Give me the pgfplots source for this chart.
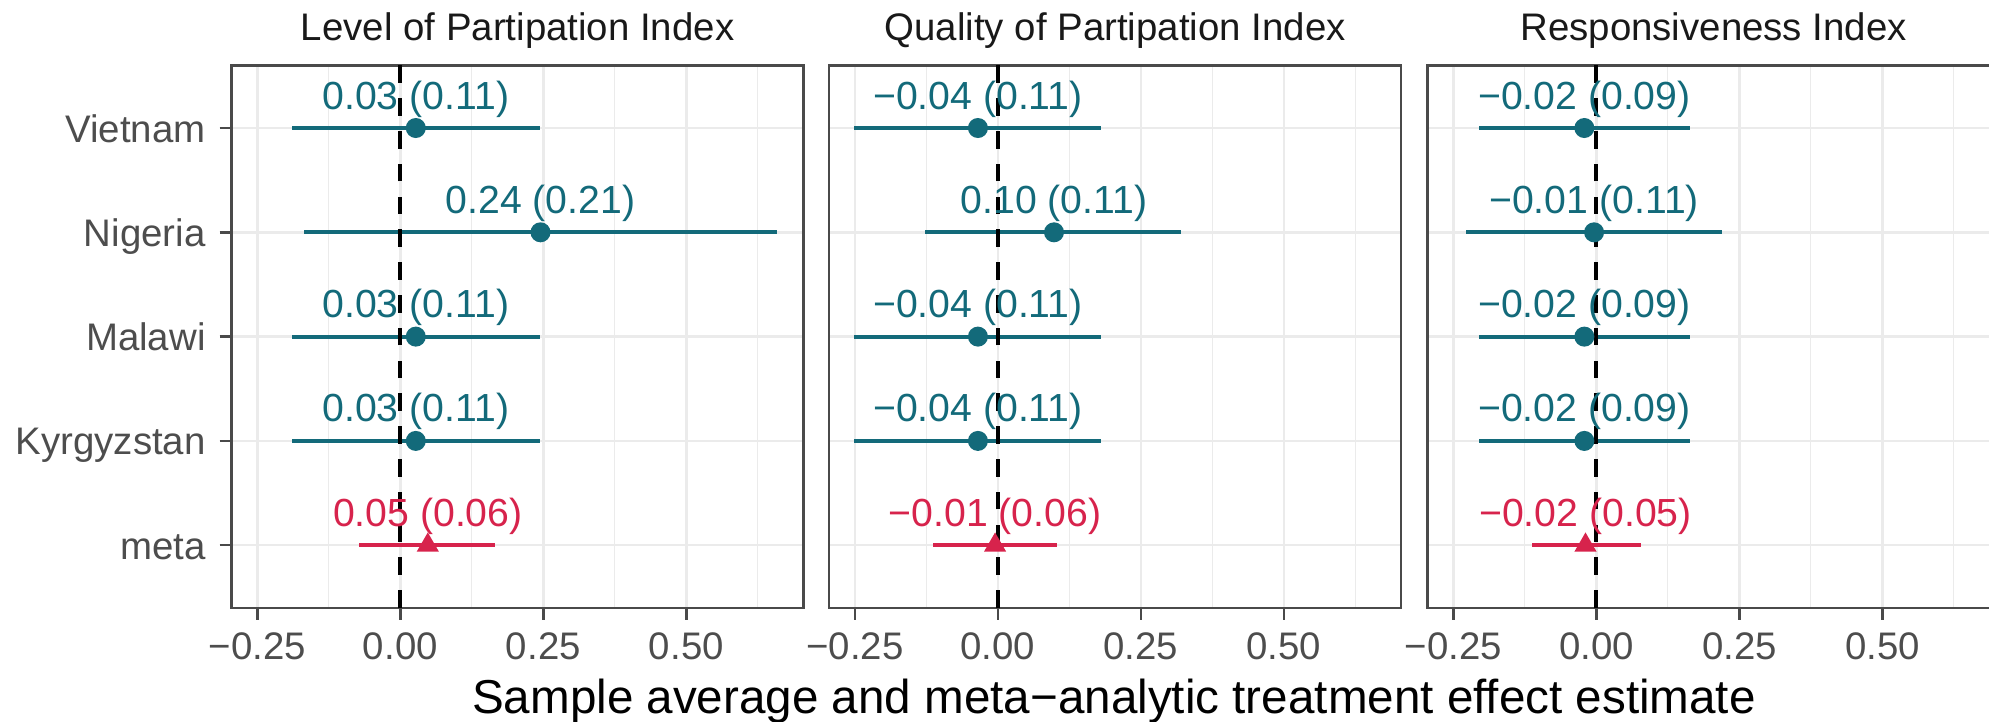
\documentclass[border=0pt]{standalone}
\usepackage{pgfplots}
\pgfplotsset{compat=1.18}
\usepackage{pgfplotstable}
\usepackage{fontspec}
\setmainfont{Liberation Sans}
\definecolor{teal1}{HTML}{136A7A}
\definecolor{red1}{HTML}{D7234C}
\definecolor{grid1}{HTML}{EBEBEB}
\definecolor{frame1}{HTML}{4A4A4A}
\definecolor{ticklab}{HTML}{4D4D4D}

\pgfplotstableread[col sep=comma]{
y,est,lo,hi,label
5,0.027,-0.190,0.245,0.03 (0.11)
4,0.245,-0.168,0.658,0.24 (0.21)
3,0.027,-0.190,0.245,0.03 (0.11)
2,0.027,-0.190,0.245,0.03 (0.11)
1,0.048,-0.072,0.165,0.05 (0.06)
}\lvl

\pgfplotstableread[col sep=comma]{
y,est,lo,hi,label
5,-0.035,-0.252,0.180,−0.04 (0.11)
4,0.098,-0.127,0.320,0.10 (0.11)
3,-0.035,-0.252,0.180,−0.04 (0.11)
2,-0.035,-0.252,0.180,−0.04 (0.11)
1,-0.005,-0.114,0.104,−0.01 (0.06)
}\qual

\pgfplotstableread[col sep=comma]{
y,est,lo,hi,label
5,-0.021,-0.206,0.164,−0.02 (0.09)
4,-0.004,-0.228,0.219,−0.01 (0.11)
3,-0.021,-0.206,0.164,−0.02 (0.09)
2,-0.021,-0.206,0.164,−0.02 (0.09)
1,-0.019,-0.113,0.078,−0.02 (0.05)
}\resp

\pgfplotsset{
  every axis title shift=0pt,
  panel/.style={
    scale only axis, width=143pt, height=135.6pt,
    anchor=south west,
    xmin=-0.295, xmax=0.705, ymin=0.4, ymax=5.6,
    axis line style={frame1, line width=0.6pt},
    xtick={-0.25,0,0.25,0.5},
    xticklabels={−0.25,0.00,0.25,0.50},
    minor xtick={-0.125,0.125,0.375,0.625},
    ytick={1,2,3,4,5},
    xmajorgrids, xminorgrids, ymajorgrids,
    major grid style={grid1, line width=0.6pt},
    minor grid style={grid1, line width=0.3pt},
    tick align=outside, major tick length=3pt, minor tick length=0pt,
    tick style={frame1, line width=0.6pt},
    xtick pos=bottom, ytick pos=left,
    xticklabel style={font=\fontsize{9.6}{11}\selectfont, text=ticklab, anchor=base, inner sep=0pt, yshift=-9.8pt},
    yticklabel style={font=\fontsize{9.6}{11}\selectfont, text=ticklab, anchor=base east, inner sep=0pt, xshift=-3.3pt, yshift=-3.5pt},
    title style={at={(0.5,1)}, anchor=base, yshift=6.2pt, inner sep=0pt, font=\fontsize{9.6}{11}\selectfont, text=black!90},
    every node near coord/.append style={anchor=base, inner sep=0pt, yshift=4.75pt, font=\fontsize{9.8}{11}\selectfont},
  },
  ctry/.style={only marks, mark=*, mark size=2.3pt, color=teal1,
    mark options={draw=none, fill=teal1},
    nodes near coords, point meta=explicit symbolic,
    every node near coord/.append style={text=teal1},
    skip coords between index={4}{5},
    error bars/.cd, x dir=both, x explicit, error mark=none,
    error bar style={line width=1pt, teal1}},
  meta/.style={only marks, mark=triangle*, mark size=2.8pt, color=red1,
    mark options={draw=none, fill=red1},
    nodes near coords, point meta=explicit symbolic,
    every node near coord/.append style={text=red1},
    skip coords between index={0}{4},
    error bars/.cd, x dir=both, x explicit, error mark=none,
    error bar style={line width=1pt, red1}},
  zline/.style={black, line width=1pt, dash pattern=on 4.4pt off 3.8pt, no marks},
}

\begin{document}
\begin{tikzpicture}
\path[use as bounding box] (0,0) rectangle (497.25pt,180.25pt);

\begin{axis}[panel, at={(57.9pt,28.3pt)}, title={Level of Partipation Index},
  yticklabels={meta,Kyrgyzstan,Malawi,Nigeria,Vietnam}]
\addplot[ctry] table[x=est, y=y, meta=label, x error plus expr=\thisrow{hi}-\thisrow{est}, x error minus expr=\thisrow{est}-\thisrow{lo}] {\lvl};
\addplot[meta] table[x=est, y=y, meta=label, x error plus expr=\thisrow{hi}-\thisrow{est}, x error minus expr=\thisrow{est}-\thisrow{lo}] {\lvl};
\addplot[zline] coordinates {(0,0.4) (0,5.6)};
\end{axis}

\begin{axis}[panel, at={(207.3pt,28.3pt)}, title={Quality of Partipation Index},
  yticklabels={}, ytick style={draw=none}]
\addplot[ctry] table[x=est, y=y, meta=label, x error plus expr=\thisrow{hi}-\thisrow{est}, x error minus expr=\thisrow{est}-\thisrow{lo}] {\qual};
\addplot[meta] table[x=est, y=y, meta=label, x error plus expr=\thisrow{hi}-\thisrow{est}, x error minus expr=\thisrow{est}-\thisrow{lo}] {\qual};
\addplot[zline] coordinates {(0,0.4) (0,5.6)};
\end{axis}

\begin{axis}[panel, at={(356.9pt,28.3pt)}, title={Responsiveness Index},
  yticklabels={}, ytick style={draw=none}]
\addplot[ctry] table[x=est, y=y, meta=label, x error plus expr=\thisrow{hi}-\thisrow{est}, x error minus expr=\thisrow{est}-\thisrow{lo}] {\resp};
\addplot[meta] table[x=est, y=y, meta=label, x error plus expr=\thisrow{hi}-\thisrow{est}, x error minus expr=\thisrow{est}-\thisrow{lo}] {\resp};
\addplot[zline] coordinates {(0,0.4) (0,5.6)};
\end{axis}

\node[anchor=base, inner sep=0pt, font=\fontsize{11.9}{13}\selectfont, text=black] at (278.5pt,2pt) {Sample average and meta−analytic treatment effect estimate};
\end{tikzpicture}
\end{document}
